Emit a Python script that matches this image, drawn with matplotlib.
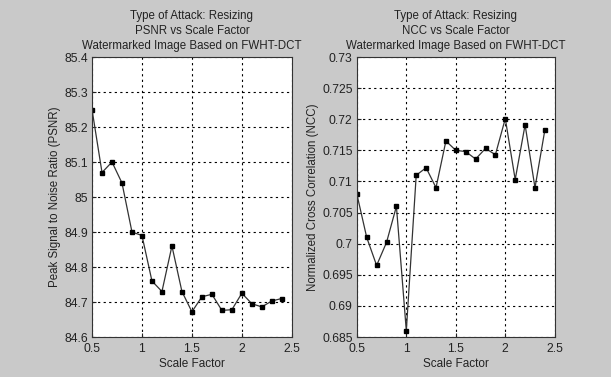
import matplotlib
matplotlib.use("Agg")
import matplotlib.pyplot as plt

plt.rcParams['font.family'] = ['Liberation Sans', 'DejaVu Sans']

scale = [0.5, 0.6, 0.7, 0.8, 0.9, 1.0, 1.1, 1.2, 1.3, 1.4, 1.5, 1.6, 1.7, 1.8, 1.9, 2.0, 2.1, 2.2, 2.3, 2.4]
psnr = [85.25, 85.07, 85.10, 85.04, 84.90, 84.89, 84.76, 84.73, 84.86, 84.73, 84.672, 84.715, 84.722, 84.676,
        84.678, 84.725, 84.695, 84.686, 84.703, 84.71]
ncc = [0.708, 0.701, 0.6965, 0.7002, 0.706, 0.686, 0.711, 0.7122, 0.709, 0.7165, 0.715, 0.7148, 0.7136, 0.7153,
       0.7143, 0.7201, 0.7103, 0.7191, 0.709, 0.7183]

psnr_ticks = [84.6, 84.7, 84.8, 84.9, 85, 85.1, 85.2, 85.3, 85.4]
psnr_labels = ['84.6', '84.7', '84.8', '84.9', '85', '85.1', '85.2', '85.3', '85.4']
ncc_ticks = [0.685, 0.69, 0.695, 0.7, 0.705, 0.71, 0.715, 0.72, 0.725, 0.73]
ncc_labels = ['0.685', '0.69', '0.695', '0.7', '0.705', '0.71', '0.715', '0.72', '0.725', '0.73']
x_ticks = [0.5, 1, 1.5, 2, 2.5]
x_labels = ['0.5', '1', '1.5', '2', '2.5']

bg = '#c9c9c9'
fig = plt.figure(figsize=(6.11, 3.77), dpi=100, facecolor=bg)
ax1 = fig.add_axes([0.1506, 0.1061, 0.327, 0.7427])
ax2 = fig.add_axes([0.584, 0.1061, 0.324, 0.7427])

fs = 8.3
for ax, y, ticks, labels, ylab, t2 in [
        (ax1, psnr, psnr_ticks, psnr_labels, 'Peak Signal to Noise Ratio (PSNR)', 'PSNR vs Scale Factor'),
        (ax2, ncc, ncc_ticks, ncc_labels, 'Normalized Cross Correlation (NCC)', 'NCC vs Scale Factor')]:
    ax.plot(scale, y, color='#333333', lw=0.9, marker='s', ms=3.5, mfc='black', mec='black')
    ax.set_xlim(0.5, 2.5)
    ax.set_ylim(ticks[0], ticks[-1])
    ax.set_xticks(x_ticks)
    ax.set_xticklabels(x_labels)
    ax.set_yticks(ticks)
    ax.set_yticklabels(labels)
    ax.grid(True, color='black', linestyle=(0, (2, 3)), lw=0.8)
    ax.tick_params(axis='y', labelsize=fs + 0.4, direction='in', length=3, colors='#222222', pad=3)
    ax.tick_params(axis='x', labelsize=fs + 0.4, direction='in', length=3, colors='#222222', pad=4.5)
    for s in ax.spines.values():
        s.set_color('#333333')
        s.set_linewidth(0.8)
    ax.set_xlabel('Scale Factor', fontsize=fs + 0.2, color='#222222', labelpad=2)
    ax.set_ylabel(ylab, fontsize=fs, color='#222222', labelpad=2)
    ax.set_title('Type of Attack: Resizing\n' + t2 + '\nWatermarked Image Based on FWHT-DCT',
                 fontsize=fs, color='#222222', linespacing=1.3, pad=6)

fig.savefig('out.png', dpi=100, facecolor=bg)
